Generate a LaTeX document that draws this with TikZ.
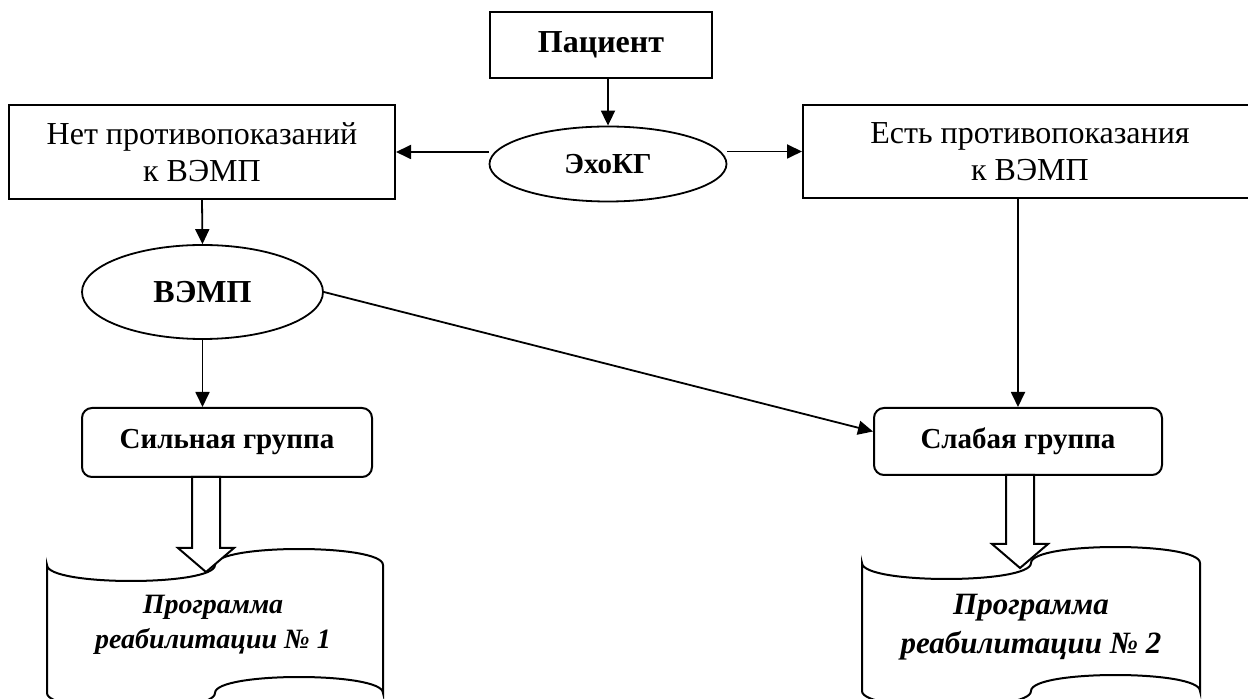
\documentclass[tikz,border=0pt]{standalone}
\usepackage{fontspec}
\setmainfont{Liberation Serif}
\usetikzlibrary{shapes,arrows.meta,calc}

% punched tape: left x, top y, width, height (picture units)
\newcommand{\tapedoc}[4]{%
  \draw[tape] ({#1},{#2+0.1*#4})
    .. controls ({#1},{#2+0.2333*#4}) and ({#1+0.5*#3},{#2+0.2333*#4}) .. ({#1+0.5*#3},{#2+0.1*#4})
    .. controls ({#1+0.5*#3},{#2-0.0333*#4}) and ({#1+#3},{#2-0.0333*#4}) .. ({#1+#3},{#2+0.1*#4})
    -- ({#1+#3},{#2+0.9*#4})
    .. controls ({#1+#3},{#2+0.7667*#4}) and ({#1+0.5*#3},{#2+0.7667*#4}) .. ({#1+0.5*#3},{#2+0.9*#4})
    .. controls ({#1+0.5*#3},{#2+1.0333*#4}) and ({#1},{#2+1.0333*#4}) .. ({#1},{#2+0.9*#4})
    -- cycle;}

\begin{document}
\begin{tikzpicture}[x=0.5pt, y=-0.5pt,
    box/.style={rectangle, draw, line width=1pt, font=\fontsize{16}{18.4}\selectfont, align=center, inner sep=0pt},
    oval/.style={ellipse, draw, line width=0.9pt, font=\bfseries\fontsize{16}{18}\selectfont, inner sep=0pt},
    group/.style={rectangle, rounded corners=5pt, draw, line width=1pt, font=\bfseries\fontsize{14.5}{17}\selectfont, inner sep=0pt},
    link/.style={-{Triangle[length=7.5pt,width=7pt]}, line width=0.9pt},
    hollow/.style={draw, fill=white, line width=1pt},
    tape/.style={draw, fill=white, line width=1pt},
    progtext/.style={font=\bfseries\itshape\fontsize{14}{17.5}\selectfont, align=center},
  ]
    \useasboundingbox (0,0) rectangle (1248,699);
    \node[box, font=\bfseries\fontsize{16}{18}\selectfont, minimum width=111pt, minimum height=33pt] (pac) at (601,45) {Пациент};
    \node[oval, font=\bfseries\fontsize{14.5}{17}\selectfont, minimum width=118.5pt, minimum height=37.5pt] (echo) at (608,164) {ЭхоКГ};
    \node[box, minimum width=193pt, minimum height=47pt] (net) at (202,152) {Нет противопоказаний\\к ВЭМП};
    \node[box, minimum width=227pt, minimum height=46.5pt] (est) at (1030,151.5) {Есть противопоказания\\к ВЭМП};
    \node[oval, minimum width=120.5pt, minimum height=47pt] (vemp) at (202.5,292) {ВЭМП};
    \node[group, minimum width=145pt, minimum height=34.5pt] (strong) at (227,442.5) {Сильная группа};
    \node[group, minimum width=144pt, minimum height=33.5pt] (weak) at (1018,441.5) {Слабая группа};
    \draw[link] (pac.south -| echo.north) -- (echo.north);
    \draw[link] (echo.west |- net.east) -- (net.east);
    \draw[link] (echo.east |- est.west) -- (est.west);
    \draw[link] (net.south) -- (vemp.north);
    \draw[link] (vemp.south) -- (vemp.south |- strong.north);
    \draw[link] (est.south -| weak.north) -- (weak.north);
    \draw[link] (vemp.east) -- ([yshift=5pt]weak.west);
    \tapedoc{47}{549}{336}{160}
    \tapedoc{862}{547}{338}{160}
    \coordinate (tip1) at (206,572);
    \coordinate (tip2) at (1020,568);
    \draw[hollow] (tip1) -- ++(-28,-24) -- ++(14,0) -- ++(0,-71) -- ++(28,0) -- ++(0,71) -- ++(14,0) -- cycle;
    \draw[hollow] (tip2) -- ++(-28,-24) -- ++(14,0) -- ++(0,-69) -- ++(28,0) -- ++(0,69) -- ++(14,0) -- cycle;
    \node[progtext] (prog1) at (213,625) {Программа\\реабилитации № 1};
    \node[progtext, font=\bfseries\itshape\fontsize{15.5}{19.5}\selectfont] (prog2) at (1031,627) {Программа\\реабилитации № 2};
  \end{tikzpicture}
\end{document}
